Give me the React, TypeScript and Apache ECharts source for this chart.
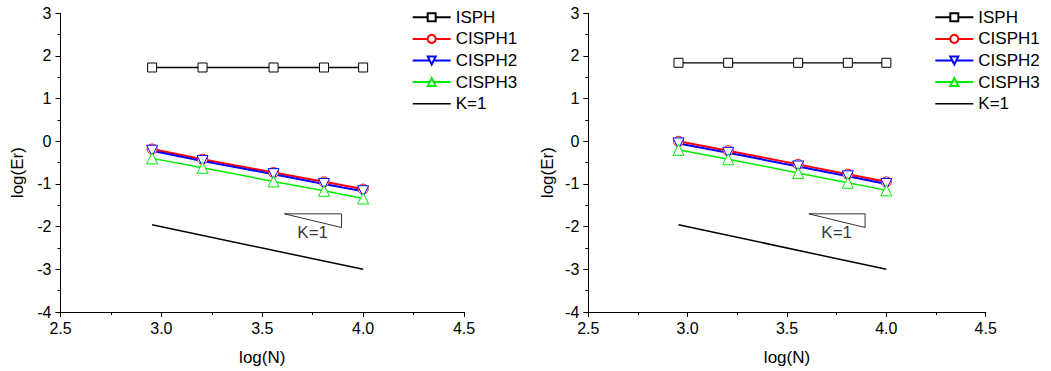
import React, { useEffect, useRef } from "react";
import * as echarts from "echarts";

// ---- data ----
const logN = [2.954, 3.204, 3.556, 3.806, 4.0];

const leftISPH = [1.73, 1.73, 1.73, 1.73, 1.73];
const leftCISPH1 = [-0.18, -0.42, -0.73, -0.95, -1.12];
const leftCISPH2 = [-0.22, -0.46, -0.77, -1.0, -1.17];
const leftCISPH3 = [-0.4, -0.62, -0.94, -1.16, -1.34];

const rightISPH = [1.84, 1.84, 1.84, 1.84, 1.84];
const rightCISPH1 = [0.0, -0.22, -0.54, -0.77, -0.95];
const rightCISPH2 = [-0.05, -0.27, -0.59, -0.82, -1.0];
const rightCISPH3 = [-0.2, -0.42, -0.74, -0.97, -1.15];

const refLineX = [2.954, 4.0];
const refLineY = [-1.954, -3.0];

const slopeTriX = [3.61, 3.893, 3.893, 3.61];
const slopeTriY = [-1.7, -1.7, -2.02, -1.7];

const kLabelX = [3.75];
const kLabelY = [-2.14];
const kLabelText = "K=1";

const seriesNames = ["ISPH", "CISPH1", "CISPH2", "CISPH3", "K=1"];
const xAxisTitle = "log(N)";
const yAxisTitle = "log(Er)";

const FONT = "Liberation Sans, Arial, Helvetica, sans-serif";

const zip = (xs: number[], ys: number[]) => xs.map((x, i) => [x, ys[i]]);

function makeSeries(idx: number, isph: number[], c1: number[], c2: number[], c3: number[]) {
  const base = { xAxisIndex: idx, yAxisIndex: idx, type: "line", z: 3 };
  return [
    {
      ...base,
      name: seriesNames[0],
      data: zip(logN, isph),
      symbol: "rect",
      symbolSize: 9,
      lineStyle: { color: "#000", width: 1.3 },
      itemStyle: { color: "#fff", borderColor: "#000", borderWidth: 1 },
    },
    {
      ...base,
      name: seriesNames[1],
      data: zip(logN, c1),
      symbol: "circle",
      symbolSize: 10,
      lineStyle: { color: "#ff0000", width: 2 },
      itemStyle: { color: "#fff", borderColor: "#ff0000", borderWidth: 1 },
    },
    {
      ...base,
      name: seriesNames[2],
      data: zip(logN, c2),
      symbol: "triangle",
      symbolRotate: 180,
      symbolSize: 11,
      lineStyle: { color: "#0000ff", width: 2 },
      itemStyle: { color: "#fff", borderColor: "#0000ff", borderWidth: 1 },
    },
    {
      ...base,
      name: seriesNames[3],
      data: zip(logN, c3),
      symbol: "triangle",
      symbolSize: 11,
      lineStyle: { color: "#00ee00", width: 1.5 },
      itemStyle: { color: "#fff", borderColor: "#00ee00", borderWidth: 1 },
    },
    {
      ...base,
      name: seriesNames[4],
      data: zip(refLineX, refLineY),
      symbol: "none",
      lineStyle: { color: "#000", width: 1.5 },
      itemStyle: { color: "#000" },
    },
    {
      ...base,
      name: "slope",
      data: zip(slopeTriX, slopeTriY),
      symbol: "none",
      lineStyle: { color: "#000", width: 0.8 },
      itemStyle: { color: "#000" },
    },
    {
      xAxisIndex: idx,
      yAxisIndex: idx,
      type: "scatter",
      name: "klabel",
      data: zip(kLabelX, kLabelY),
      symbolSize: 1,
      itemStyle: { color: "transparent" },
      label: {
        show: true,
        position: "inside",
        formatter: kLabelText,
        color: "#000",
        fontSize: 17,
        fontFamily: FONT,
      },
    },
  ];
}

function makeAxes(idx: number, yNameGap: number) {
  const common = {
    gridIndex: idx,
    type: "value",
    axisLine: { onZero: false, lineStyle: { color: "#000", width: 1 } },
    axisTick: { show: true, inside: false, length: 5, lineStyle: { color: "#000" } },
    minorTick: { show: true, splitNumber: 2, length: 3, lineStyle: { color: "#000" } },
    splitLine: { show: false },
    minorSplitLine: { show: false },
    nameLocation: "middle",
    nameTextStyle: { color: "#000", fontSize: 17, fontFamily: FONT },
  };
  const x = {
    ...common,
    min: 2.5,
    max: 4.5,
    interval: 0.5,
    name: xAxisTitle,
    nameGap: 37,
    axisLabel: {
      color: "#000",
      fontSize: 16,
      fontFamily: FONT,
      margin: 8,
      formatter: (v: number) => v.toFixed(1),
    },
  };
  const y = {
    ...common,
    min: -4,
    max: 3,
    interval: 1,
    name: yAxisTitle,
    nameGap: yNameGap,
    nameTextStyle: { ...common.nameTextStyle, padding: [0, 20, 0, 0] },
    axisLabel: { color: "#000", fontSize: 16, fontFamily: FONT, margin: 9 },
  };
  return { x, y };
}

const legendText = {
  color: "#000",
  fontSize: 17,
  fontFamily: FONT,
  rich: { t: { color: "#000", fontSize: 17, fontFamily: FONT, lineHeight: 17 } },
};

function makeLegend(left: number) {
  return {
    orient: "vertical",
    left,
    top: 8.8,
    padding: 0,
    itemWidth: 38,
    itemHeight: 10,
    itemGap: 4.6,
    textStyle: legendText,
    formatter: (name: string) => "{t|" + name + "}",
    data: [
      { name: seriesNames[0] },
      { name: seriesNames[1] },
      { name: seriesNames[2] },
      { name: seriesNames[3] },
      { name: seriesNames[4], icon: "path://M0,0h38v1.5h-38z" },
    ],
    selectedMode: false,
  };
}

export default function App() {
  const ref = useRef<HTMLDivElement>(null);
  useEffect(() => {
    if (!ref.current) return;
    const chart = echarts.init(ref.current, undefined, { renderer: "svg" });
    const a0 = makeAxes(0, 35);
    const a1 = makeAxes(1, 32);
    chart.setOption({
      animation: false,
      backgroundColor: "#fff",
      textStyle: { fontFamily: FONT },
      grid: [
        { left: 60.5, top: 13.3, width: 403.5, height: 299.4 },
        { left: 588.3, top: 13.3, width: 397.4, height: 299.4 },
      ],
      xAxis: [a0.x, a1.x],
      yAxis: [a0.y, a1.y],
      legend: [makeLegend(411.7), makeLegend(934.3)],
      series: [
        ...makeSeries(0, leftISPH, leftCISPH1, leftCISPH2, leftCISPH3),
        ...makeSeries(1, rightISPH, rightCISPH1, rightCISPH2, rightCISPH3),
      ],
    });
    return () => chart.dispose();
  }, []);
  return (
    <div
      ref={ref}
      style={{ position: "fixed", left: 0, top: 0, width: 1051, height: 371, background: "#fff" }}
    />
  );
}
